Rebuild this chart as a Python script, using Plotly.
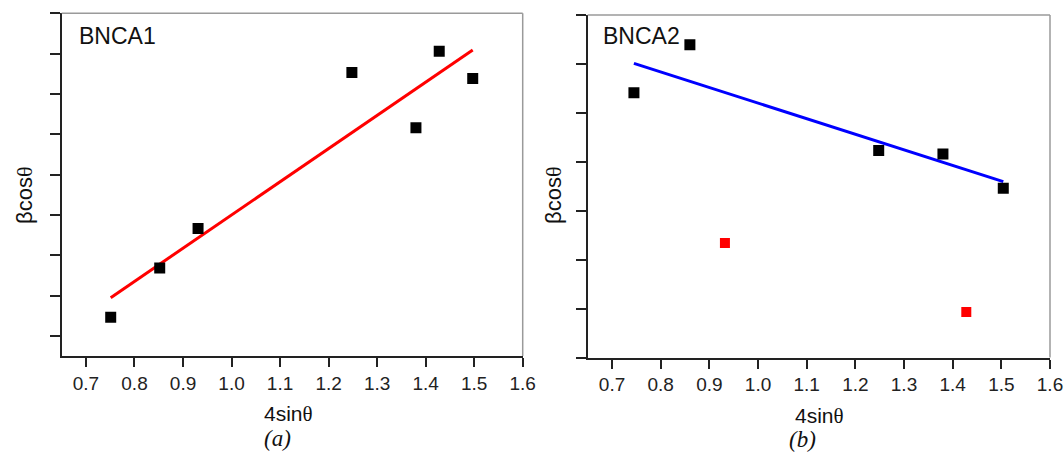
import numpy as np
import plotly.graph_objects as go

W, H = 1064, 452

# Panel (a) BNCA1
a_x = [0.751, 0.852, 0.931, 1.248, 1.380, 1.428, 1.497]
a_y = [0.46, 1.68, 2.66, 6.53, 5.16, 7.06, 6.38]

# Panel (b) BNCA2 (black points used in fit, red points excluded)
b_x = [0.745, 0.860, 1.248, 1.380, 1.504]
b_y = [5.41, 6.39, 4.23, 4.16, 3.46]
b_out_x = [0.932, 1.428]
b_out_y = [2.34, 0.93]

x_ticks = [0.7, 0.8, 0.9, 1.0, 1.1, 1.2, 1.3, 1.4, 1.5, 1.6]
x_tick_labels = ["0.7", "0.8", "0.9", "1.0", "1.1", "1.2", "1.3", "1.4", "1.5", "1.6"]


def fit_line(xs, ys):
    k, b = np.polyfit(xs, ys, 1)
    xe = np.array([min(xs), max(xs)])
    return xe, k * xe + b


fa_x, fa_y = fit_line(a_x, a_y)
fb_x, fb_y = fit_line(b_x, b_y)

fig = go.Figure()
fig.add_trace(go.Scatter(x=fa_x, y=fa_y, mode="lines", line=dict(color="#ff0000", width=3),
                         xaxis="x", yaxis="y", showlegend=False))
fig.add_trace(go.Scatter(x=a_x, y=a_y, mode="markers",
                         marker=dict(symbol="square", size=11, color="black"),
                         xaxis="x", yaxis="y", showlegend=False))
fig.add_trace(go.Scatter(x=fb_x, y=fb_y, mode="lines", line=dict(color="#0000ff", width=3),
                         xaxis="x2", yaxis="y2", showlegend=False))
fig.add_trace(go.Scatter(x=b_x, y=b_y, mode="markers",
                         marker=dict(symbol="square", size=11, color="black"),
                         xaxis="x2", yaxis="y2", showlegend=False))
fig.add_trace(go.Scatter(x=b_out_x, y=b_out_y, mode="markers",
                         marker=dict(symbol="square", size=10, color="#ff0000"),
                         xaxis="x2", yaxis="y2", showlegend=False))

def px(v):
    return v / W

def py(v):
    return 1 - v / H

tick_font = dict(family="Liberation Sans, Arial, sans-serif", size=19, color="#222")
xcommon = dict(range=[0.65, 1.6], tickvals=x_ticks, ticktext=x_tick_labels,
               showline=True, linecolor="#222", linewidth=2, ticks="outside",
               ticklen=9, tickwidth=2, tickcolor="#222", showgrid=False, zeroline=False,
               tickfont=tick_font, automargin=False)
ycommon = dict(showline=True, linecolor="#222", linewidth=2, ticks="outside",
               ticklen=10, tickwidth=2, tickcolor="#222", showgrid=False, zeroline=False,
               showticklabels=False, dtick=1, tick0=0, automargin=False)

fig.update_layout(
    width=W, height=H, autosize=False,
    margin=dict(l=0, r=0, t=0, b=0, pad=0),
    paper_bgcolor="white", plot_bgcolor="white",
    xaxis=dict(domain=[px(61.7), px(522.7)], anchor="y", **xcommon),
    yaxis=dict(domain=[py(356), py(13.3)], anchor="x", range=[-0.5, 8.0], **ycommon),
    xaxis2=dict(domain=[px(587.7), px(1050)], anchor="y2", **xcommon),
    yaxis2=dict(domain=[py(357.5), py(15)], anchor="x2", range=[0, 7.0], **ycommon),
)

# top and right frame lines (thin grey)
for xr, yr in (("x domain", "y domain"), ("x2 domain", "y2 domain")):
    fig.add_shape(type="line", xref=xr, yref=yr, x0=0, x1=1, y0=1, y1=1,
                  line=dict(color="#9a9a9a", width=1.5))
    fig.add_shape(type="line", xref=xr, yref=yr, x0=1, x1=1, y0=0, y1=1,
                  line=dict(color="#9a9a9a", width=1.5))

title_font = dict(family="Liberation Sans, Arial, sans-serif", size=21, color="#111")
ytitle_font = dict(family="Liberation Sans, Arial, sans-serif", size=22, color="#111")
theta = "<span style='font-family:Liberation Serif, Times New Roman, serif'>θ</span>"
label_font = dict(family="Liberation Sans, Arial, sans-serif", size=23, color="#111")
sub_font = dict(family="Liberation Serif, Times New Roman, serif", size=23, color="#111")

ann = [
    dict(x=px(77), y=py(36), text="BNCA1", xanchor="left", yanchor="middle", font=label_font),
    dict(x=px(601), y=py(36), text="BNCA2", xanchor="left", yanchor="middle", font=label_font),
    dict(x=px(288), y=py(414), text="4sin" + theta, xanchor="center", yanchor="middle", font=title_font),
    dict(x=px(819), y=py(416), text="4sin" + theta, xanchor="center", yanchor="middle", font=title_font),
    dict(x=px(24), y=py(196), text="βcos" + theta, textangle=-90, xanchor="center", yanchor="middle", font=ytitle_font),
    dict(x=px(553), y=py(196), text="βcos" + theta, textangle=-90, xanchor="center", yanchor="middle", font=ytitle_font),
    dict(x=px(277), y=py(438), text="<i>(a)</i>", xanchor="center", yanchor="middle", font=sub_font),
    dict(x=px(802), y=py(439), text="<i>(b)</i>", xanchor="center", yanchor="middle", font=sub_font),
]
for a in ann:
    a.update(xref="paper", yref="paper", showarrow=False)
fig.update_layout(annotations=ann)

fig.write_html("out.html", config={"displayModeBar": False},
               post_script="document.body.style.margin='0';document.body.style.overflow='hidden';")
